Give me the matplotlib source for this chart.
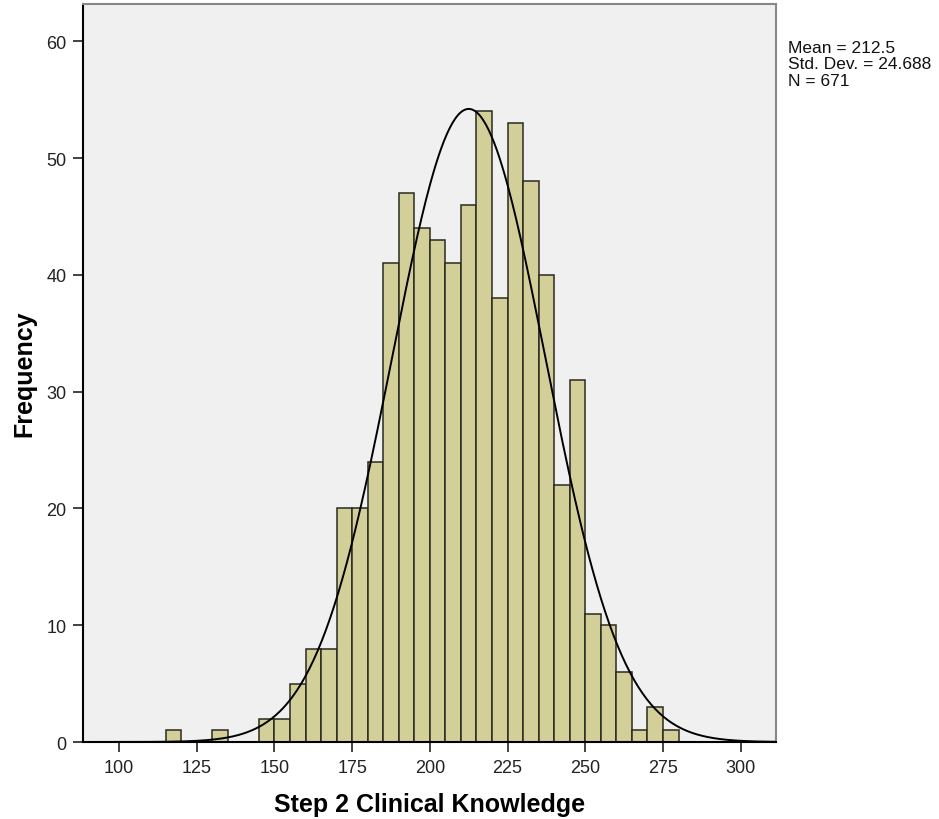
import numpy as np
import matplotlib
matplotlib.use('Agg')
import matplotlib.pyplot as plt

plt.rcParams['font.family'] = ['Liberation Sans', 'DejaVu Sans']

# Bin left edges (width 5) and counts
bin_edges = [115, 120, 125, 130, 135, 140, 145, 150, 155, 160, 165, 170, 175, 180,
             185, 190, 195, 200, 205, 210, 215, 220, 225, 230, 235, 240, 245, 250,
             255, 260, 265, 270, 275]
counts = [1, 0, 0, 1, 0, 0, 2, 2, 5, 8, 8, 20, 20, 24,
          41, 47, 44, 43, 41, 46, 54, 38, 53, 48, 40, 22, 31, 11,
          10, 6, 1, 3, 1]
bin_width = 5
mean = 212.5
std = 24.688
n = 671
x_ticks = [100, 125, 150, 175, 200, 225, 250, 275, 300]
y_ticks = [0, 10, 20, 30, 40, 50, 60]

fig = plt.figure(figsize=(9.39, 8.20), dpi=100)
ax = fig.add_axes([0.0884, 0.0939, 0.7378, 0.9000])
ax.set_facecolor('#F0F0F0')

edges = np.array(bin_edges)
c = np.array(counts)
mask = c > 0
ax.bar(edges[mask], c[mask], width=bin_width, align='edge',
       color='#D3CF98', edgecolor='#2a2a20', linewidth=1.1, zorder=2)

# normal curve scaled to counts
xs = np.linspace(88.4, 311.3, 500)
ys = n * bin_width / (std * np.sqrt(2 * np.pi)) * np.exp(-0.5 * ((xs - mean) / std) ** 2)
ax.plot(xs, ys, color='black', linewidth=1.4, zorder=3)

ax.set_xlim(88.4, 311.3)
ax.set_ylim(0, 63.2)
ax.set_xticks(x_ticks)
ax.set_yticks(y_ticks)
ax.tick_params(axis='both', direction='out', length=7, width=1.2, labelsize=13,
               colors='#222222', pad=5)

for s in ['left', 'bottom']:
    ax.spines[s].set_color('black')
    ax.spines[s].set_linewidth(1.5)
for s in ['top', 'right']:
    ax.spines[s].set_color('#888888')
    ax.spines[s].set_linewidth(1.5)

ax.set_xlabel('Step 2 Clinical Knowledge', fontsize=18, fontweight='bold', labelpad=12)
ax.set_ylabel('Frequency', fontsize=18, fontweight='bold', labelpad=7)

fig.text(788 / 939, 1 - 41 / 820,
         'Mean = 212.5\nStd. Dev. = 24.688\nN = 671',
         fontsize=12.5, va='top', ha='left', linespacing=1.12, color='#111111')

fig.savefig('out.png', dpi=100)
